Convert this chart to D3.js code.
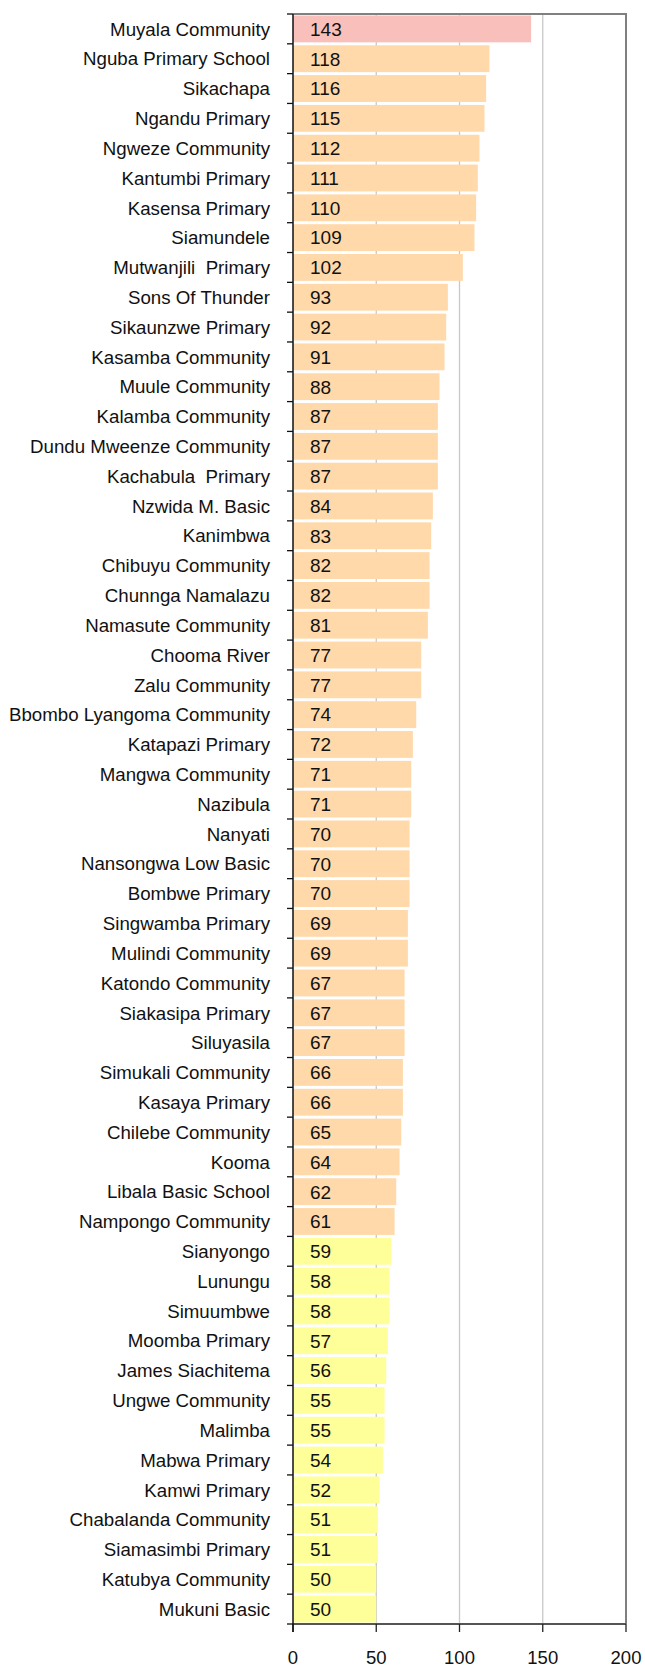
<!DOCTYPE html>
<meta charset="utf-8">
<html>
<script src="https://d3js.org/d3.v7.min.js"></script>
<style>
  body { margin: 0; background: white; }
  text { font-family: "Liberation Sans", Arial, sans-serif; }
</style>
<div id="chart"></div>

<script>

// data, top to bottom
var schools = ["Muyala Community", "Nguba Primary School", "Sikachapa", "Ngandu Primary",
  "Ngweze Community", "Kantumbi Primary", "Kasensa Primary", "Siamundele",
  "Mutwanjili  Primary", "Sons Of Thunder", "Sikaunzwe Primary", "Kasamba Community",
  "Muule Community", "Kalamba Community", "Dundu Mweenze Community", "Kachabula  Primary",
  "Nzwida M. Basic", "Kanimbwa", "Chibuyu Community", "Chunnga Namalazu",
  "Namasute Community", "Chooma River", "Zalu Community", "Bbombo Lyangoma Community",
  "Katapazi Primary", "Mangwa Community", "Nazibula", "Nanyati",
  "Nansongwa Low Basic", "Bombwe Primary", "Singwamba Primary", "Mulindi Community",
  "Katondo Community", "Siakasipa Primary", "Siluyasila", "Simukali Community",
  "Kasaya Primary", "Chilebe Community", "Kooma", "Libala Basic School",
  "Nampongo Community", "Sianyongo", "Lunungu", "Simuumbwe",
  "Moomba Primary", "James Siachitema", "Ungwe Community", "Malimba",
  "Mabwa Primary", "Kamwi Primary", "Chabalanda Community", "Siamasimbi Primary",
  "Katubya Community", "Mukuni Basic"];

var values = [143, 118, 116, 115, 112, 111, 110, 109, 102, 93, 92, 91, 88, 87, 87, 87,
  84, 83, 82, 82, 81, 77, 77, 74, 72, 71, 71, 70, 70, 70, 69, 69, 67, 67, 67, 66,
  66, 65, 64, 62, 61, 59, 58, 58, 57, 56, 55, 55, 54, 52, 51, 51, 50, 50];

var xTicks = [0, 50, 100, 150, 200];

var width = 645,
    height = 1669,
    margin = {top: 14, right: 19, bottom: 45, left: 293};

var svg = d3.select("#chart")
  .append("svg")
    .attr("width", width)
    .attr("height", height);

var x = d3.scaleLinear()
  .domain([0, 200])
  .range([margin.left, width - margin.right]);

var y = d3.scaleBand()
  .domain(schools)
  .range([margin.top, height - margin.bottom])
  .paddingInner(0.1)
  .paddingOuter(0.05);

var plotTop = margin.top,
    plotBottom = height - margin.bottom;

// colour by value band
function barColor(v) {
  if (v > 120) return "#f9bfbb";
  if (v >= 60) return "#ffd9aa";
  return "#ffff99";
}

// gridlines
svg.selectAll("line.grid")
  .data(xTicks.slice(1, -1))
  .enter().append("line")
    .attr("class", "grid")
    .attr("x1", function(d) { return x(d); })
    .attr("x2", function(d) { return x(d); })
    .attr("y1", plotTop)
    .attr("y2", plotBottom)
    .attr("stroke", "#c8c8c8")
    .attr("stroke-width", 1.3);

// bars
svg.selectAll("rect.bar")
  .data(schools)
  .enter().append("rect")
    .attr("class", "bar")
    .attr("x", x(0))
    .attr("y", function(d) { return y(d); })
    .attr("width", function(d, i) { return x(values[i]) - x(0); })
    .attr("height", y.bandwidth())
    .attr("fill", function(d, i) { return barColor(values[i]); });

// value labels inside bars
svg.selectAll("text.val")
  .data(schools)
  .enter().append("text")
    .attr("class", "val")
    .attr("x", x(0) + 17)
    .attr("y", function(d) { return y(d) + y.bandwidth() / 2; })
    .attr("dy", "0.36em")
    .style("font-size", "19px")
    .attr("fill", "#111")
    .text(function(d, i) { return values[i]; });

// category labels
svg.selectAll("text.cat")
  .data(schools)
  .enter().append("text")
    .attr("class", "cat")
    .attr("x", 270)
    .attr("y", function(d) { return y(d) + y.bandwidth() / 2; })
    .attr("dy", "0.36em")
    .attr("text-anchor", "end")
    .style("font-size", "18.7px")
    .style("white-space", "pre")
    .attr("fill", "#111")
    .text(function(d) { return d; });

// plot frame: top and right in grey
svg.append("path")
  .attr("d", "M" + x(0) + "," + plotTop + "H" + x(200) + "V" + plotBottom)
  .attr("fill", "none")
  .attr("stroke", "#808080")
  .attr("stroke-width", 2);

// bottom axis
svg.append("line")
  .attr("x1", x(0)).attr("x2", x(200))
  .attr("y1", plotBottom).attr("y2", plotBottom)
  .attr("stroke", "#555")
  .attr("stroke-width", 2);

svg.selectAll("line.xtick")
  .data(xTicks)
  .enter().append("line")
    .attr("class", "xtick")
    .attr("x1", function(d) { return x(d); })
    .attr("x2", function(d) { return x(d); })
    .attr("y1", plotBottom)
    .attr("y2", plotBottom + 8)
    .attr("stroke", "#222")
    .attr("stroke-width", 1.3);

svg.selectAll("text.xlab")
  .data(xTicks)
  .enter().append("text")
    .attr("class", "xlab")
    .attr("x", function(d) { return x(d); })
    .attr("y", plotBottom + 33)
    .attr("dy", "0.36em")
    .attr("text-anchor", "middle")
    .style("font-size", "18.5px")
    .attr("fill", "#111")
    .text(function(d) { return d; });

// left axis with ticks at band edges
svg.append("line")
  .attr("x1", x(0)).attr("x2", x(0))
  .attr("y1", plotTop).attr("y2", plotBottom + 8)
  .attr("stroke", "#111")
  .attr("stroke-width", 1.5);

var edges = d3.range(schools.length + 1).map(function(i) {
  return plotTop + i * (plotBottom - plotTop) / schools.length;
});
svg.selectAll("line.ytick")
  .data(edges)
  .enter().append("line")
    .attr("class", "ytick")
    .attr("x1", x(0) - 6)
    .attr("x2", x(0))
    .attr("y1", function(d) { return d; })
    .attr("y2", function(d) { return d; })
    .attr("stroke", "#111")
    .attr("stroke-width", 1.3);

</script>
</html>
